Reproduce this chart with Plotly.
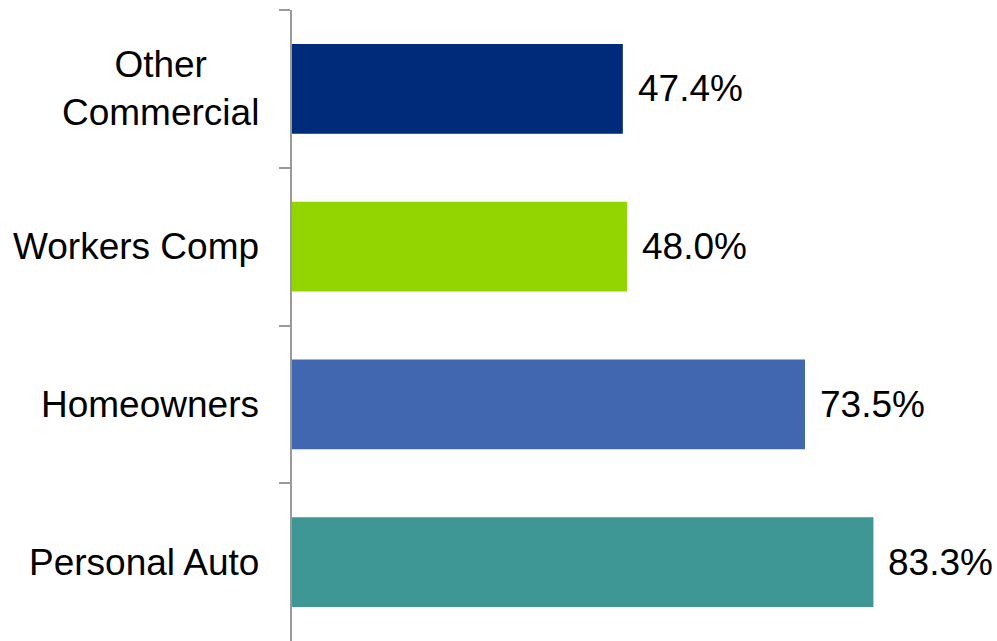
import plotly.graph_objects as go

categories = ["Other<br>Commercial", "Workers Comp", "Homeowners", "Personal Auto"]
values = [47.4, 48.0, 73.5, 83.3]
colors = ["#002B7A", "#93D500", "#4167B1", "#3E9795"]

FONT = "Liberation Sans, Arial, sans-serif"
SIZE = 37

fig = go.Figure(
    go.Bar(
        x=values,
        y=categories,
        orientation="h",
        marker=dict(color=colors, line=dict(width=0)),
        width=0.57,
        hoverinfo="skip",
    )
)

for c, v in zip(categories, values):
    # value label
    fig.add_annotation(
        x=v, y=c, text=f"{v:.1f}%", showarrow=False,
        xanchor="left", yanchor="middle", xshift=13,
        font=dict(family=FONT, size=SIZE, color="#000000"),
    )
    # category label (centered multi-line)
    fig.add_annotation(
        x=0, xref="paper", y=c, text=c, showarrow=False,
        xanchor="right", yanchor="middle", xshift=-31, align="center",
        font=dict(family=FONT, size=SIZE, color="#000000"),
    )

fig.update_layout(
    width=997,
    height=641,
    margin=dict(l=292, r=7, t=10, b=0),
    plot_bgcolor="white",
    paper_bgcolor="white",
    showlegend=False,
    font=dict(family=FONT, size=SIZE, color="#000000"),
    xaxis=dict(range=[0, 100], visible=False, showgrid=False, zeroline=False),
    yaxis=dict(
        autorange="reversed",
        showline=True,
        linecolor="#9A9A9A",
        linewidth=2,
        ticks="outside",
        tickson="boundaries",
        ticklen=11,
        tickwidth=2,
        tickcolor="#9A9A9A",
        showticklabels=False,
        showgrid=False,
        zeroline=False,
    ),
)

fig.write_html(
    "out.html",
    config={"displayModeBar": False},
    post_script="document.body.style.margin='0';document.body.style.overflow='hidden';",
)
